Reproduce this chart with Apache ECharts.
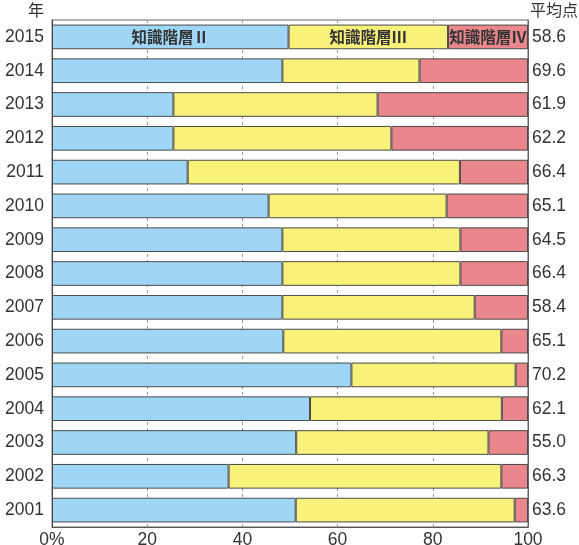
<!DOCTYPE html>
<html>
<head>
<meta charset="utf-8">
<script src="https://cdn.jsdelivr.net/npm/echarts@6/dist/echarts.min.js"></script>
<style>
  html, body { margin: 0; padding: 0; background: #fff; }
  #main { width: 579px; height: 545px; }
</style>
</head>
<body>
<div id="main"></div>
<script>
// 年 (下から上へ)
var years = ['2001', '2002', '2003', '2004', '2005', '2006', '2007', '2008',
             '2009', '2010', '2011', '2012', '2013', '2014', '2015'];
// 平均点
var averages = ['63.6', '66.3', '55.0', '62.1', '70.2', '65.1', '58.4', '66.4',
                '64.5', '65.1', '66.4', '62.2', '61.9', '69.6', '58.6'];
// 各階層の割合 (%)
var level2 = [51.2, 37.1, 51.3, 54.2, 62.9, 48.6, 48.4, 48.4, 48.4, 45.5, 28.5, 25.5, 25.5, 48.4, 49.7];
var level3 = [46.0, 57.3, 40.4, 40.3, 34.5, 45.8, 40.4, 37.4, 37.4, 37.4, 57.2, 45.8, 42.9, 28.8, 33.5];
var level4 = [2.8, 5.6, 8.3, 5.5, 2.6, 5.6, 11.2, 14.2, 14.2, 17.1, 14.3, 28.7, 31.6, 22.8, 16.8];
var levelNames = ['知識階層Ⅱ', '知識階層Ⅲ', '知識階層Ⅳ'];
var xTicks = [0, 20, 40, 60, 80, 100];

var colors = ['#a0d6f5', '#f9f27a', '#e9878c'];
var font = 'Liberation Sans';

// 最上段 (2015) の棒だけに階層名を表示
function makeData(values, name) {
    return values.map(function (v, i) {
        if (i === values.length - 1) {
            return {
                value: v,
                label: {
                    show: true,
                    position: 'inside',
                    formatter: name,
                    color: '#333',
                    fontSize: 15.5,
                    fontWeight: 'bold',
                    fontFamily: 'Noto Sans CJK JP'
                }
            };
        }
        return v;
    });
}

var option = {
    animation: false,
    color: colors,
    grid: {
        left: 52,
        right: 51,
        top: 20,
        bottom: 18,
        outerBoundsMode: 'none',
        show: true,
        borderColor: '#666',
        borderWidth: 1
    },
    xAxis: {
        type: 'value',
        min: xTicks[0],
        max: xTicks[xTicks.length - 1],
        interval: 20,
        axisLine: { show: true, lineStyle: { color: '#555' } },
        axisTick: { show: false },
        axisLabel: {
            margin: 4,
            color: '#333',
            fontSize: 17.5,
            fontFamily: font,
            formatter: function (v) { return v === 0 ? '0%' : String(v); }
        },
        splitLine: { show: true, lineStyle: { color: '#999', type: [3, 3], width: 1 } }
    },
    yAxis: [{
        type: 'category',
        data: years,
        name: '年',
        nameLocation: 'end',
        nameGap: 4,
        nameTextStyle: {
            color: '#333', fontSize: 16, fontFamily: 'Noto Sans CJK JP',
            align: 'right', padding: [0, 8, -2, 0]
        },
        axisLine: { show: true, lineStyle: { color: '#444' } },
        axisTick: { show: false },
        axisLabel: { margin: 8, color: '#333', fontSize: 17.5, fontFamily: font }
    }, {
        type: 'category',
        position: 'right',
        data: averages,
        name: '平均点',
        nameLocation: 'end',
        nameGap: 4,
        nameTextStyle: {
            color: '#333', fontSize: 16, fontFamily: 'Noto Sans CJK JP',
            align: 'left', padding: [0, 0, -2, 2]
        },
        axisLine: { show: true, lineStyle: { color: '#666' } },
        axisTick: { show: false },
        axisLabel: { margin: 4, color: '#333', fontSize: 17.5, fontFamily: font }
    }],
    series: [level2, level3, level4].map(function (vals, k) {
        return {
            name: levelNames[k],
            type: 'bar',
            stack: 'total',
            barCategoryGap: '27%',
            itemStyle: { borderColor: '#4a4a4a', borderWidth: 1 },
            data: makeData(vals, levelNames[k])
        };
    })
};

echarts.init(document.getElementById('main')).setOption(option);
</script>
</body>
</html>
